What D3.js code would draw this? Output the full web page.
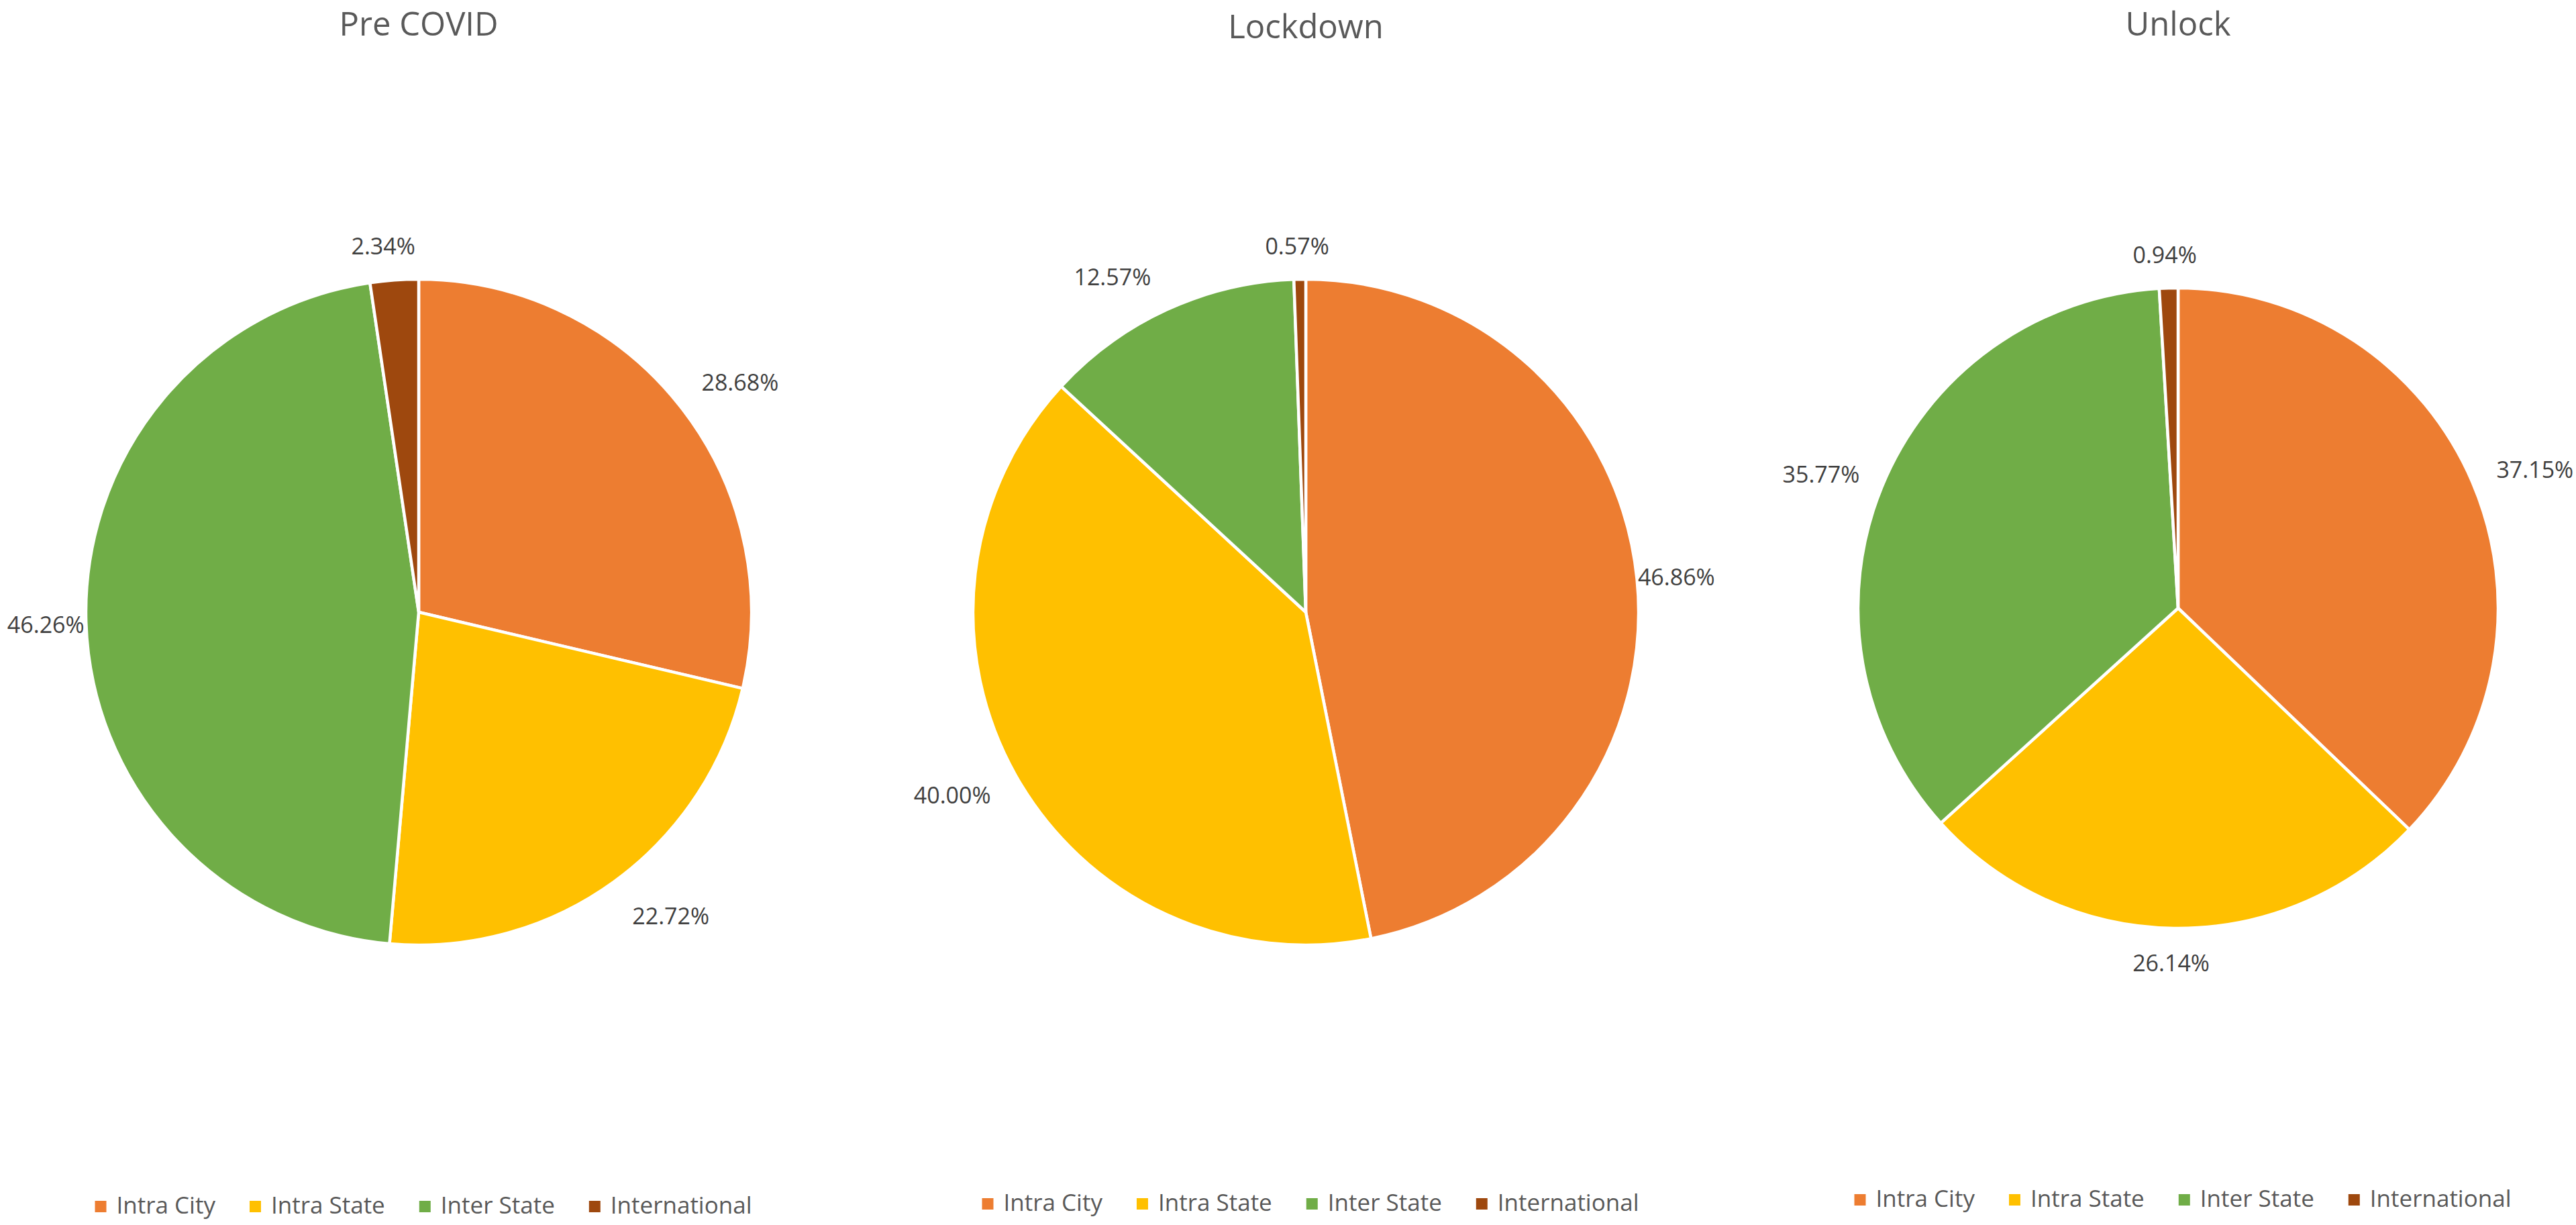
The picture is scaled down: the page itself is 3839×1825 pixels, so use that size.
<!DOCTYPE html>
<html>
<head>
<meta charset="utf-8">
<script src="https://cdn.jsdelivr.net/npm/d3@7"></script>
<style>
  html, body { margin: 0; padding: 0; background: #ffffff; }
  svg { display: block; }
</style>
</head>
<body>
<svg id="chart" width="3839" height="1825"></svg>
<script>
// ---------- data ----------
const titles = ["Pre COVID", "Lockdown", "Unlock"];
const categories = ["Intra City", "Intra State", "Inter State", "International"];
const preCovid = [28.68, 22.72, 46.26, 2.34];
const lockdown = [46.86, 40.00, 12.57, 0.57];
const unlock = [37.15, 26.14, 35.77, 0.94];
const seriesValues = [preCovid, lockdown, unlock];

// ---------- layout / style ----------
const colors = ["#ED7D31", "#FFC000", "#70AD47", "#9E480E"];
const panelLayout = [
  { cx: 624, cy: 912, r: 496, titleY: 53, legendY: 1808 },
  { cx: 1946, cy: 912, r: 496, titleY: 57, legendY: 1804 },
  { cx: 3246, cy: 906, r: 477, titleY: 53, legendY: 1798 }
];
// small label nudges (Excel "best fit" placement)
const labelNudges = [
  [[43, 3], [50, 2], [0, 3], [-12, 9]],
  [[-1, 3], [-42, 1], [-56, 6], [-3, 11]],
  [[38, 5], [-3, -8], [-35, 4], [-4, 11]]
];
const fontFamily = "'Open Sans', 'Noto Sans', sans-serif";

const svg = d3.select("#chart");
const color = d3.scaleOrdinal().domain(categories).range(colors);
const pie = d3.pie().sort(null).value(d => d.value);

seriesValues.forEach((vals, pi) => {
  const L = panelLayout[pi];
  const g = svg.append("g");
  const data = categories.map((c, i) => ({ cat: c, value: vals[i] }));
  const arcs = pie(data);
  const arc = d3.arc().innerRadius(0).outerRadius(L.r);

  // title
  g.append("text")
    .attr("x", L.cx).attr("y", L.titleY)
    .attr("text-anchor", "middle")
    .attr("font-family", fontFamily)
    .attr("font-size", 49)
    .attr("fill", "#595959")
    .text(titles[pi]);

  const pg = g.append("g").attr("transform", `translate(${L.cx},${L.cy})`);
  pg.selectAll("path").data(arcs).join("path")
    .attr("d", arc)
    .attr("fill", d => color(d.data.cat))
    .attr("stroke", "#ffffff")
    .attr("stroke-width", 4.5)
    .attr("stroke-linejoin", "round");

  // labels
  const labelR = L.r + 60;
  pg.selectAll("text.lbl").data(arcs).join("text")
    .attr("class", "lbl")
    .attr("x", (d, i) => labelR * Math.sin((d.startAngle + d.endAngle) / 2) + labelNudges[pi][i][0])
    .attr("y", (d, i) => -labelR * Math.cos((d.startAngle + d.endAngle) / 2) + labelNudges[pi][i][1] + 12)
    .attr("text-anchor", "middle")
    .attr("font-family", fontFamily)
    .attr("font-size", 34)
    .attr("fill", "#404040")
    .text(d => d.data.value.toFixed(2) + "%");

  // legend
  const lg = g.append("g");
  const items = lg.selectAll("g.item").data(categories).join("g").attr("class", "item");
  items.append("rect")
    .attr("width", 17).attr("height", 17)
    .attr("y", L.legendY - 19)
    .attr("fill", d => color(d));
  items.append("text")
    .attr("y", L.legendY)
    .attr("font-family", fontFamily)
    .attr("font-size", 35)
    .attr("fill", "#595959")
    .text(d => d);
  let x = 0;
  const sq = 17, gap = 15, spacing = 51;
  items.each(function () {
    const it = d3.select(this);
    const tw = it.select("text").node().getComputedTextLength();
    it.select("rect").attr("x", x);
    it.select("text").attr("x", x + sq + gap);
    x += sq + gap + tw + spacing;
  });
  const total = x - spacing;
  lg.attr("transform", `translate(${L.cx + 7 - total / 2},0)`);
});
</script>
</body>
</html>
